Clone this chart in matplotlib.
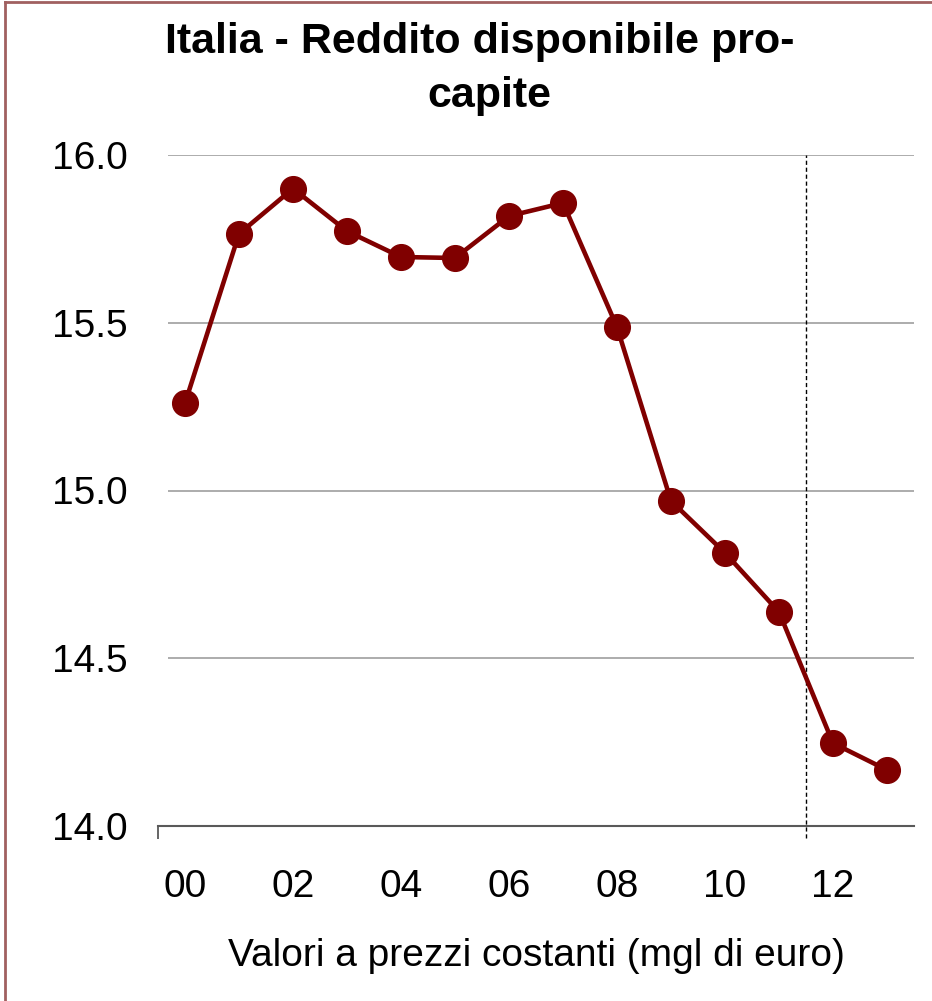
import matplotlib
matplotlib.use("Agg")
import matplotlib.pyplot as plt
from matplotlib.lines import Line2D

# Data
years = ["00", "01", "02", "03", "04", "05", "06", "07", "08", "09", "10", "11", "12", "13"]
reddito = [15.26, 15.765, 15.90, 15.773, 15.696, 15.693, 15.818, 15.857,
           15.487, 14.969, 14.814, 14.638, 14.247, 14.167]
y_ticks = [14.0, 14.5, 15.0, 15.5, 16.0]

plt.rcParams["font.family"] = ["Liberation Sans", "DejaVu Sans"]

fig = plt.figure(figsize=(9.32, 10.01), dpi=100)
ax = fig.add_axes([158 / 932, 1 - 826 / 1001, (914 - 158) / 932, (826 - 155) / 1001])

x = list(range(len(years)))

# grid lines (start slightly right of the axis origin, like the original)
for yv in y_ticks[1:]:
    ax.hlines(yv, -0.315, len(years) - 0.5, color="#a6a6a6", lw=1.3, zorder=1)

# line with markers
ax.plot(x, reddito, color="#800000", lw=3.3, marker="o", markersize=18.5, zorder=3)

# forecast separator
ax.axvline(11.5, ymin=-0.018, ymax=1, color="black", lw=1, ls=(0, (3, 2)),
           clip_on=False, zorder=2)

ax.set_xlim(-0.5, len(years) - 0.5)
ax.set_ylim(14.0, 16.0)

ax.set_yticks(y_ticks)
ax.set_yticklabels([f"{v:.1f}" for v in y_ticks], fontsize=28)
ax.tick_params(axis="y", length=0, pad=22)

ax.set_xticks(x[::2])
ax.set_xticklabels(years[::2], fontsize=28)
ax.tick_params(axis="x", which="major", length=0, pad=31)
ax.set_xticks([-0.5], minor=True)
ax.tick_params(axis="x", which="minor", length=9, width=1.3, color="#595959")

for s in ["top", "right", "left"]:
    ax.spines[s].set_visible(False)
ax.spines["bottom"].set_color("#595959")
ax.spines["bottom"].set_linewidth(1.5)

ax.set_xlabel("Valori a prezzi costanti (mgl di euro)", fontsize=28, labelpad=24)

fig.text(480 / 932, 1 - 42 / 1001, "Italia - Reddito disponibile pro-",
         fontsize=31, fontweight="bold", ha="center", va="center")
fig.text(489 / 932, 1 - 96 / 1001, "capite",
         fontsize=31, fontweight="bold", ha="center", va="center")

# chart border (left and top visible)
fig.add_artist(Line2D([4.5 / 932, 4.5 / 932], [0, 1 - 2 / 1001], color="#a06060", lw=2))
fig.add_artist(Line2D([4.5 / 932, 1], [1 - 2 / 1001, 1 - 2 / 1001], color="#a06060", lw=2))

fig.savefig("out.png", dpi=100)
